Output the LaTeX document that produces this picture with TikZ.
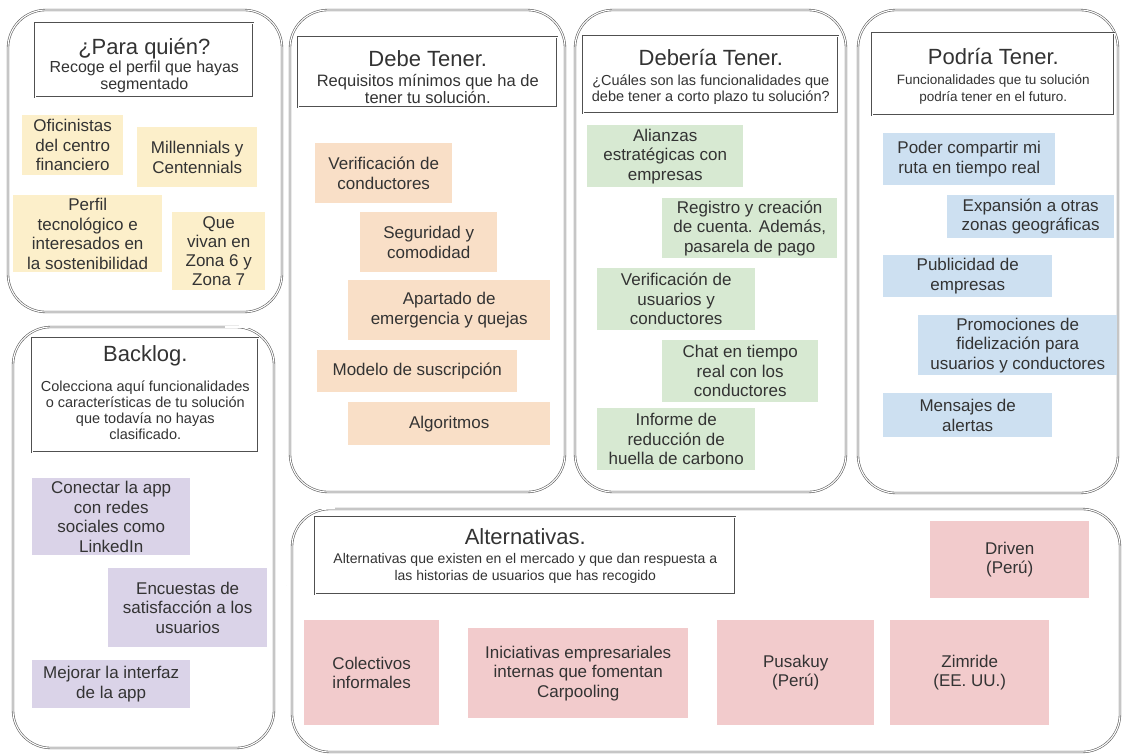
\documentclass[tikz,border=0pt]{standalone}
\usepackage{fontspec}
\setmainfont{Liberation Sans}
\definecolor{ink}{HTML}{333333}
\definecolor{frame}{HTML}{5E5E5E}
\definecolor{yel}{HTML}{FCEFCA}
\definecolor{peach}{HTML}{F9DFC7}
\definecolor{mint}{HTML}{D7E9D2}
\definecolor{sky}{HTML}{CDE0F1}
\definecolor{lilac}{HTML}{DAD3E8}
\definecolor{rose}{HTML}{F2CBCC}
\begin{document}
\begin{tikzpicture}[x=1pt,y=-1pt,
  panel/.style={draw=frame, double=white, line width=0.6pt, double distance=1.1pt, rounded corners=38pt},
  headbox/.style={draw=frame!85!black, double=white, line width=0.6pt, double distance=1pt, inner sep=0pt, anchor=north west},
  hdr/.style={text=ink, inner sep=0pt, font=\fontsize{22}{24}\selectfont},
  subtxt/.style={text=ink, inner sep=0pt, align=center},
  sticky/.style={inner sep=0pt, align=center, text=ink, anchor=north west, font=\fontsize{17}{19.5}\selectfont},
  straight/.style={draw=frame, double=white, line width=0.6pt, double distance=1.1pt}
]
\fill[white] (0,0) rectangle (1125,755);
\useasboundingbox (0,0) rectangle (1125,755);

% ---------- ¿Para quién? ----------
\draw[panel] (8,10) rectangle (282,312);
\node[headbox, minimum width=218pt, minimum height=74pt] (t1) at (35,23) {};
\node[hdr] (t1h) at (t1.center |- 0,49) {¿Para quién?};
\node[subtxt, font=\fontsize{16}{16.5}\selectfont] (t1s) at (t1.center |- 0,77) {Recoge el perfil que hayas\\segmentado};
\node[sticky, fill=yel, minimum width=101pt, minimum height=60pt] (p1) at (22,115) {Oficinistas\\del centro\\financiero};
\node[sticky, fill=yel, minimum width=120pt, minimum height=60pt] (p2) at (137,127) {Millennials y\\Centennials};
\node[sticky, fill=yel, minimum width=149pt, minimum height=77pt] (p3) at (13,195) {Perfil\\tecnológico e\\interesados en\\la sostenibilidad};
\node[sticky, fill=yel, minimum width=93pt, minimum height=78pt, font=\fontsize{17}{19}\selectfont] (p4) at (172,212) {Que\\vivan en\\Zona 6 y\\Zona 7};

% ---------- Debe Tener ----------
\draw[panel] (290,10) rectangle (565,492);
\node[headbox, minimum width=259pt, minimum height=70pt] (t2) at (298,37) {};
\node[hdr] (t2h) at (t2.center |- 0,59) {Debe Tener.};
\node[subtxt, font=\fontsize{16.5}{17}\selectfont] (t2s) at (t2.center |- 0,89) {Requisitos mínimos que ha de\\tener tu solución.};
\node[sticky, fill=peach, minimum width=137pt, minimum height=60pt] (d1) at (315,143) {Verificación de\\conductores};
\node[sticky, fill=peach, minimum width=137pt, minimum height=60pt] (d2) at (360,212) {Seguridad y\\comodidad};
\node[sticky, fill=peach, minimum width=202pt, minimum height=60pt] (d3) at (348,280) {Apartado de\\emergencia y quejas};
\node[sticky, fill=peach, minimum width=200pt, minimum height=42pt] (d4) at (317,350) {Modelo de suscripción};
\node[sticky, fill=peach, minimum width=202pt, minimum height=43pt] (d5) at (348,402) {Algoritmos};

% ---------- Debería Tener ----------
\draw[panel] (575,10) rectangle (846,492);
\node[headbox, minimum width=255pt, minimum height=77pt] (t3) at (583,36) {};
\node[hdr] (t3h) at (t3.center |- 0,58) {Debería Tener.};
\node[subtxt, font=\fontsize{14.5}{16}\selectfont] (t3s) at (t3.center |- 0,90) {¿Cuáles son las funcionalidades que\\debe tener a corto plazo tu solución?};
\node[sticky, fill=mint, minimum width=156pt, minimum height=62pt] (e1) at (587,125) {Alianzas\\estratégicas con\\empresas};
\node[sticky, fill=mint, minimum width=175pt, minimum height=60pt] (e2) at (662,198) {Registro y creación\\de cuenta. Además,\\pasarela de pago};
\node[sticky, fill=mint, minimum width=158pt, minimum height=62pt] (e3) at (597,268) {Verificación de\\usuarios y\\conductores};
\node[sticky, fill=mint, minimum width=156pt, minimum height=62pt] (e4) at (662,340) {Chat en tiempo\\real con los\\conductores};
\node[sticky, fill=mint, minimum width=158pt, minimum height=62pt] (e5) at (597,408) {Informe de\\reducción de\\huella de carbono};

% ---------- Podría Tener ----------
\draw[panel] (858,10) rectangle (1118,493);
\node[headbox, minimum width=242pt, minimum height=82pt] (t4) at (872,33) {};
\node[hdr] (t4h) at (t4.center |- 0,57) {Podría Tener.};
\node[subtxt, font=\fontsize{13.5}{17}\selectfont] (t4s) at (t4.center |- 0,89) {Funcionalidades que tu solución\\podría tener en el futuro.};
\node[sticky, fill=sky, minimum width=172pt, minimum height=52pt] (f1) at (883,133) {Poder compartir mi\\ruta en tiempo real};
\node[sticky, fill=sky, minimum width=167pt, minimum height=43pt] (f2) at (947,195) {Expansión a otras\\zonas geográficas};
\node[sticky, fill=sky, minimum width=169pt, minimum height=42pt] (f3) at (883,255) {Publicidad de\\empresas};
\node[sticky, fill=sky, minimum width=199pt, minimum height=60pt] (f4) at (918,315) {Promociones de\\fidelización para\\usuarios y conductores};
\node[sticky, fill=sky, minimum width=169pt, minimum height=44pt] (f5) at (883,393) {Mensajes de\\alertas};

% ---------- Backlog ----------
\draw[panel] (13,327) rectangle (274,748);
\draw[straight] (225,327) -- (277,327) -- (277,438);
\node[headbox, minimum width=226pt, minimum height=114pt] (t5) at (32,338) {};
\node[hdr] (t5h) at (t5.center |- 0,356) {Backlog.};
\node[subtxt, font=\fontsize{14.5}{16}\selectfont] (t5s) at (t5.center |- 0,410) {Colecciona aquí funcionalidades\\o características de tu solución\\que todavía no hayas\\clasificado.};
\node[sticky, fill=lilac, minimum width=158pt, minimum height=77pt] (b1) at (32,478) {Conectar la app\\con redes\\sociales como\\LinkedIn};
\node[sticky, fill=lilac, minimum width=159pt, minimum height=79pt] (b2) at (108,568) {Encuestas de\\satisfacción a los\\usuarios};
\node[sticky, fill=lilac, minimum width=158pt, minimum height=48pt] (b3) at (32,660) {Mejorar la interfaz\\de la app};

% ---------- Alternativas ----------
\draw[panel] (292,509) rectangle (1120,752);
\draw[straight] (287,585) -- (287,508) -- (335,508);
\node[headbox, minimum width=420pt, minimum height=77pt] (t6) at (315,517) {};
\node[hdr] (t6h) at (t6.center |- 0,537) {Alternativas.};
\node[subtxt, font=\fontsize{14}{17}\selectfont] (t6s) at (t6.center |- 0,568) {Alternativas que existen en el mercado y que dan respuesta a\\las historias de usuarios que has recogido};
\node[sticky, fill=rose, minimum width=159pt, minimum height=77pt] (a5) at (930,521) {Driven\\(Perú)};
\node[sticky, fill=rose, minimum width=135pt, minimum height=105pt] (a1) at (304,620) {Colectivos\\informales};
\node[sticky, fill=rose, minimum width=220pt, minimum height=90pt] (a2) at (468,628) {Iniciativas empresariales\\internas que fomentan\\Carpooling};
\node[sticky, fill=rose, minimum width=157pt, minimum height=105pt] (a3) at (717,620) {Pusakuy\\(Perú)};
\node[sticky, fill=rose, minimum width=159pt, minimum height=105pt] (a4) at (890,620) {Zimride\\(EE. UU.)};
\end{tikzpicture}
\end{document}
